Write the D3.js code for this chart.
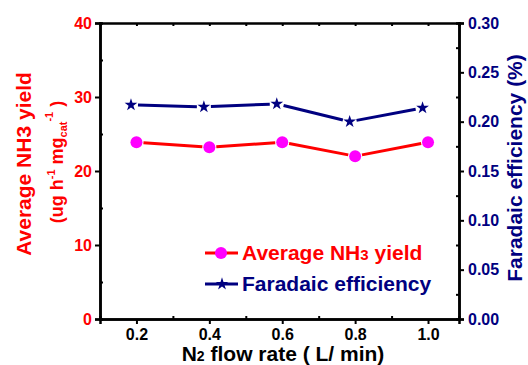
<!DOCTYPE html>
<html lang="en">
  <head>
    <meta charset="UTF-8" />
    <title>NH3 yield vs N2 flow rate</title>
    <script src="https://cdn.jsdelivr.net/npm/d3@7"></script>
    <style>
      body {
        margin: 0;
        padding: 0;
        background: #fff;
      }
      text {
        font-family: 'Liberation Sans', Arial, sans-serif;
        font-weight: bold;
      }
    </style>
  </head>

  <body>
    <svg width="528" height="365"></svg>

    <script>
      // data
      var flowRate = [0.2, 0.4, 0.6, 0.8, 1.0]
      var feFlowRate = [0.185, 0.385, 0.585, 0.785, 0.985]
      var nh3Yield = [23.9, 23.2, 23.9, 22.0, 23.9]
      var faradaic = [0.217, 0.215, 0.218, 0.2, 0.214]
      var xTicks = [0.2, 0.4, 0.6, 0.8, 1.0]
      var yLeftTicks = [0, 10, 20, 30, 40]
      var yRightTicks = [0, 0.05, 0.1, 0.15, 0.2, 0.25, 0.3]

      var red = '#ff0000'
      var navy = '#000080'

      var svg = d3.select('svg')
      var plot = { left: 100, right: 459, top: 23, bottom: 319 }

      var x = d3.scaleLinear().domain([0.1, 1.085]).range([plot.left, plot.right])
      var yL = d3.scaleLinear().domain([0, 40]).range([plot.bottom, plot.top])
      var yR = d3.scaleLinear().domain([0, 0.3]).range([plot.bottom, plot.top])

      // axes: major ticks out, minor ticks in
      var axB = d3.axisBottom(x).tickValues(xTicks).tickFormat(d3.format('.1f')).tickSize(5).tickPadding(5)
      var axL = d3.axisLeft(yL).tickValues(yLeftTicks).tickSize(5).tickPadding(3)
      var axR = d3.axisRight(yR).tickValues(yRightTicks).tickFormat(d3.format('.2f')).tickSize(5).tickPadding(4)

      var gB = svg.append('g').attr('transform', `translate(0,${plot.bottom})`).call(axB)
      var gL = svg.append('g').attr('transform', `translate(${plot.left},0)`).call(axL)
      var gR = svg.append('g').attr('transform', `translate(${plot.right},0)`).call(axR)
      svg.append('g').attr('transform', `translate(0,${plot.top})`)
        .call(d3.axisTop(x).tickValues([0.2, 0.3, 0.4, 0.5, 0.6, 0.7, 0.8, 0.9, 1.0]).tickSize(-3).tickFormat(''))

      // minor ticks
      svg.append('g').attr('transform', `translate(0,${plot.bottom})`)
        .call(d3.axisBottom(x).tickValues([0.3, 0.5, 0.7, 0.9]).tickSize(-3).tickFormat(''))
      svg.append('g').attr('transform', `translate(${plot.left},0)`)
        .call(d3.axisLeft(yL).tickValues([5, 15, 25, 35]).tickSize(-3).tickFormat(''))
      svg.append('g').attr('transform', `translate(${plot.right},0)`)
        .call(d3.axisRight(yR).tickValues([0.025, 0.075, 0.125, 0.175, 0.225, 0.275]).tickSize(-3).tickFormat(''))

      svg.selectAll('.domain').attr('stroke', '#000').attr('stroke-width', 2.5)
      svg.selectAll('.tick line').attr('stroke', '#000').attr('stroke-width', 2)
      svg.selectAll('.tick text').attr('font-size', 16).attr('font-family', null)
      gB.selectAll('.tick text').attr('fill', '#000')
      gL.selectAll('.tick text').attr('fill', red)
      gR.selectAll('.tick text').attr('fill', navy)

      // gapped line segments like the original
      function segments(xs, ys, xScale, yScale, gap) {
        var segs = []
        for (var i = 0; i < xs.length - 1; i++) {
          var x1 = xScale(xs[i]), y1 = yScale(ys[i])
          var x2 = xScale(xs[i + 1]), y2 = yScale(ys[i + 1])
          var len = Math.hypot(x2 - x1, y2 - y1)
          var ux = (x2 - x1) / len, uy = (y2 - y1) / len
          segs.push([x1 + ux * gap, y1 + uy * gap, x2 - ux * gap, y2 - uy * gap])
        }
        return segs
      }

      svg.append('g').selectAll('line')
        .data(segments(flowRate, nh3Yield, x, yL, 7))
        .join('line')
        .attr('x1', (d) => d[0]).attr('y1', (d) => d[1])
        .attr('x2', (d) => d[2]).attr('y2', (d) => d[3])
        .attr('stroke', red).attr('stroke-width', 3)

      svg.append('g').selectAll('circle')
        .data(flowRate)
        .join('circle')
        .attr('cx', (d) => x(d))
        .attr('cy', (d, i) => yL(nh3Yield[i]))
        .attr('r', 6)
        .attr('fill', '#ff00ff')

      svg.append('g').selectAll('line')
        .data(segments(feFlowRate, faradaic, x, yR, 7))
        .join('line')
        .attr('x1', (d) => d[0]).attr('y1', (d) => d[1])
        .attr('x2', (d) => d[2]).attr('y2', (d) => d[3])
        .attr('stroke', navy).attr('stroke-width', 3)

      var star = d3.symbol().type(d3.symbolStar).size(50)
      svg.append('g').selectAll('path')
        .data(feFlowRate)
        .join('path')
        .attr('d', star)
        .attr('transform', (d, i) => `translate(${x(d)},${yR(faradaic[i])})`)
        .attr('fill', navy)

      // legend
      var lg = svg.append('g')
      lg.append('line').attr('x1', 205).attr('x2', 238).attr('y1', 253).attr('y2', 253)
        .attr('stroke', red).attr('stroke-width', 3)
      lg.append('circle').attr('cx', 221).attr('cy', 253).attr('r', 6).attr('fill', '#ff00ff')
      var t1 = lg.append('text').attr('x', 242).attr('y', 260).attr('font-size', 21).attr('fill', red)
      t1.append('tspan').text('Average NH')
      t1.append('tspan').attr('font-size', 15).text('3')
      t1.append('tspan').text(' yield')

      lg.append('line').attr('x1', 205).attr('x2', 238).attr('y1', 284).attr('y2', 284)
        .attr('stroke', navy).attr('stroke-width', 3)
      lg.append('path').attr('d', star).attr('transform', 'translate(222,284)').attr('fill', navy)
      lg.append('text').attr('x', 242).attr('y', 291).attr('font-size', 21).attr('fill', navy)
        .text('Faradaic efficiency')

      // axis titles
      var xt = svg.append('text').attr('x', 283).attr('y', 361).attr('text-anchor', 'middle')
        .attr('font-size', 21).attr('fill', '#000')
      xt.append('tspan').text('N')
      xt.append('tspan').attr('font-size', 14).text('2')
      xt.append('tspan').text(' flow rate ( L/ min)')

      svg.append('text').attr('transform', 'translate(31,164) rotate(-90)')
        .attr('text-anchor', 'middle').attr('font-size', 21).attr('fill', red)
        .text('Average NH3 yield')

      var yt = svg.append('text').attr('transform', 'translate(63,162) rotate(-90)')
        .attr('text-anchor', 'middle').attr('font-size', 18).attr('fill', red)
      yt.append('tspan').text('(ug h')
      yt.append('tspan').attr('font-size', 11).attr('dy', -8).text('-1')
      yt.append('tspan').attr('dy', 8).text('  mg')
      yt.append('tspan').attr('font-size', 11).attr('dy', 4).text('cat')
      yt.append('tspan').attr('font-size', 11).attr('dy', -14).text('-1')
      yt.append('tspan').attr('dy', 10).text('  )')

      svg.append('text').attr('transform', 'translate(522,168) rotate(-90)')
        .attr('text-anchor', 'middle').attr('font-size', 21).attr('fill', navy)
        .text('Faradaic efficiency (%)')
    </script>
  </body>
</html>
